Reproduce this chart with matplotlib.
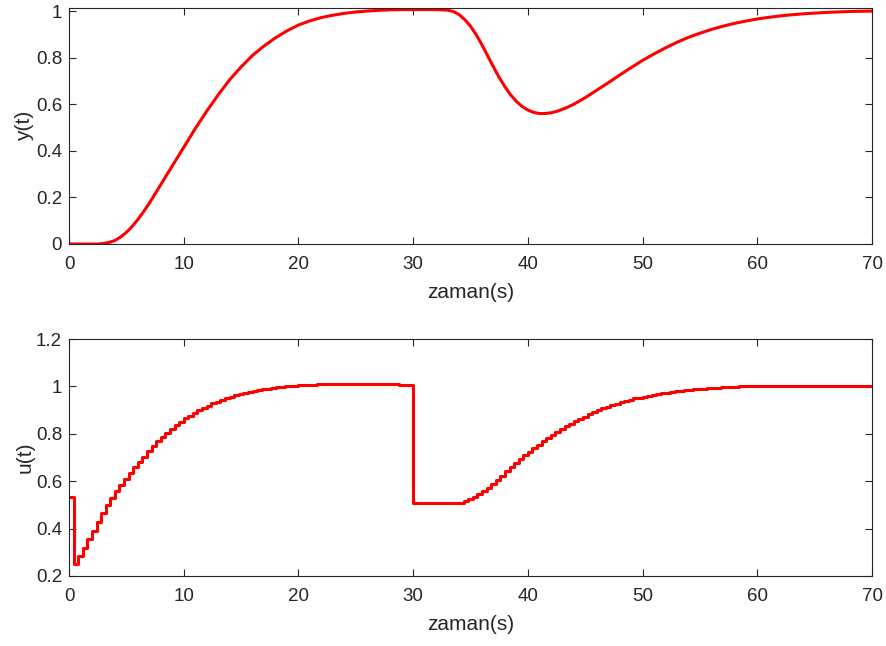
import numpy as np
import matplotlib
matplotlib.use("Agg")
import matplotlib.pyplot as plt

plt.rcParams['font.family'] = ['Liberation Sans', 'DejaVu Sans']

# ---- data ----
t_y = [0, 1, 2, 2.5, 3, 3.5, 4, 4.5, 5, 5.5, 6, 6.5, 7, 8, 9,
       10, 11, 12, 13, 14, 15, 16, 17, 18, 19,
       20, 21, 22, 23, 24, 25, 26, 27, 28, 29,
       30, 31, 32, 33, 33.5, 34, 34.5, 35, 35.5, 36, 36.5, 37, 37.5, 38, 38.5,
       39, 39.5, 40, 40.5, 41, 41.5, 42, 42.5, 43, 43.5, 44, 44.5, 45,
       46, 47, 48, 49, 50, 51, 52, 53, 54, 55, 56, 57, 58, 59,
       60, 61, 62, 63, 64, 65, 66, 67, 68, 69, 70]
y_vals = [0.000, 0.000, 0.000, 0.000, 0.002, 0.007, 0.015, 0.030, 0.050, 0.075,
          0.105, 0.139, 0.175, 0.255, 0.335,
          0.415, 0.495, 0.570, 0.640, 0.705, 0.760, 0.810, 0.850, 0.885, 0.915,
          0.940, 0.958, 0.972, 0.982, 0.990, 0.996, 1.000, 1.003, 1.005, 1.006,
          1.006, 1.006, 1.006, 1.004, 0.998, 0.985, 0.963, 0.935, 0.898, 0.855,
          0.807, 0.760, 0.715, 0.675, 0.640,
          0.612, 0.590, 0.575, 0.565, 0.560, 0.560, 0.563, 0.569, 0.578, 0.588,
          0.600, 0.614, 0.628,
          0.660, 0.692, 0.725, 0.757, 0.788, 0.816, 0.842, 0.866, 0.887, 0.905,
          0.921, 0.935, 0.947, 0.957,
          0.966, 0.973, 0.979, 0.984, 0.988, 0.991, 0.994, 0.996, 0.998, 0.999,
          1.000]

Ts = 0.4  # sample time of the control signal
u_vals = [0.535, 0.250, 0.284, 0.320, 0.355, 0.390, 0.428, 0.465, 0.498, 0.530,
          0.558, 0.585, 0.610, 0.635, 0.659, 0.681, 0.704, 0.727, 0.748, 0.768,
          0.787, 0.804, 0.820, 0.836, 0.851, 0.865, 0.877, 0.889, 0.900, 0.910,
          0.919, 0.928, 0.936, 0.944, 0.951, 0.957, 0.963, 0.968, 0.973, 0.977,
          0.981, 0.985, 0.988, 0.991, 0.994, 0.996, 0.998, 1.000, 1.002, 1.003,
          1.005, 1.006, 1.007, 1.008, 1.009, 1.010, 1.011, 1.011, 1.012, 1.012,
          1.012, 1.012, 1.012, 1.012, 1.011, 1.011, 1.011, 1.010, 1.010, 1.010,
          1.009, 1.009, 1.008, 1.008, 1.008,
          0.510, 0.509, 0.508, 0.508, 0.507, 0.507, 0.506, 0.506, 0.506, 0.507,
          0.510, 0.515, 0.523, 0.533, 0.545, 0.558, 0.573, 0.589, 0.606, 0.624,
          0.642, 0.660, 0.677, 0.694, 0.710, 0.725, 0.740, 0.754, 0.768, 0.782,
          0.795, 0.808, 0.820, 0.832, 0.843, 0.854, 0.864, 0.873, 0.882, 0.891,
          0.899, 0.907, 0.914, 0.921, 0.927, 0.933, 0.939, 0.944, 0.949, 0.953,
          0.957, 0.961, 0.965, 0.968, 0.971, 0.974, 0.977, 0.980, 0.982, 0.984,
          0.986, 0.988, 0.990, 0.991, 0.993, 0.994, 0.995, 0.996, 0.997, 0.998,
          0.999, 1.000, 1.000, 1.001, 1.001, 1.002, 1.003, 1.003, 1.003, 1.003,
          1.003, 1.003, 1.003, 1.003, 1.003, 1.003, 1.003, 1.003, 1.003, 1.003,
          1.003, 1.002, 1.002, 1.002, 1.002, 1.002, 1.002, 1.002, 1.002, 1.002]

x_ticks = [0, 10, 20, 30, 40, 50, 60, 70]
y_ticks_top = [0, 0.2, 0.4, 0.6, 0.8, 1]
y_ticks_bot = [0.2, 0.4, 0.6, 0.8, 1, 1.2]

t_u = np.arange(len(u_vals)) * Ts
t_u_step = np.append(t_u, 70.0)
u_step = np.append(u_vals, u_vals[-1])

fig = plt.figure(figsize=(8.86, 6.46), dpi=100)
ax1 = fig.add_axes([0.0779, 0.6223, 0.9063, 0.3653])
ax2 = fig.add_axes([0.0779, 0.1084, 0.9063, 0.3668])

edge = '#262626'
TICK_FS = 13.5
LABEL_FS = 15

def style(ax):
    for s in ax.spines.values():
        s.set_color(edge)
        s.set_linewidth(0.8)
    ax.tick_params(direction='in', top=True, right=True, length=5,
                   width=0.8, color=edge, labelsize=TICK_FS, labelcolor=edge)
    ax.tick_params(axis='x', pad=9)
    ax.tick_params(axis='y', pad=5)
    ax.set_xlim(0, 70)
    ax.set_xticks(x_ticks)
    ax.set_xticklabels([str(v) for v in x_ticks])

ax1.plot(t_y, y_vals, color='#ff0000', lw=2.2, solid_joinstyle='round')
style(ax1)
ax1.set_ylim(0, 1.013)
ax1.set_yticks(y_ticks_top)
ax1.set_yticklabels(['0', '0.2', '0.4', '0.6', '0.8', '1'])
ax1.set_xlabel('zaman(s)', fontsize=LABEL_FS, color=edge, labelpad=7)
ax1.set_ylabel('y(t)', fontsize=LABEL_FS, color=edge, labelpad=1)

ax2.step(t_u_step, u_step, where='post', color='#ff0000', lw=2.2)
style(ax2)
ax2.set_ylim(0.2, 1.2)
ax2.set_yticks(y_ticks_bot)
ax2.set_yticklabels(['0.2', '0.4', '0.6', '0.8', '1', '1.2'])
ax2.set_xlabel('zaman(s)', fontsize=LABEL_FS, color=edge, labelpad=7)
ax2.set_ylabel('u(t)', fontsize=LABEL_FS, color=edge, labelpad=1)

fig.savefig('out.png', dpi=100)
